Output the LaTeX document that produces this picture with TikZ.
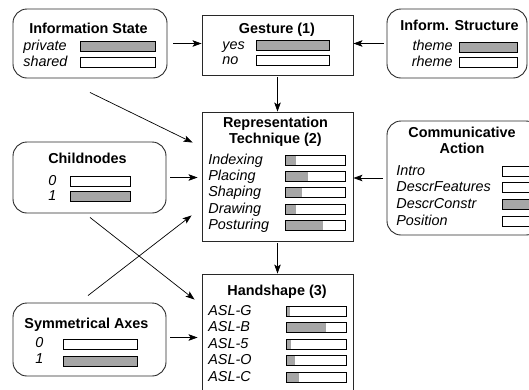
\documentclass[tikz,border=0pt]{standalone}
\usepackage{fontspec}
\setmainfont{Liberation Sans}
\usetikzlibrary{arrows.meta,calc}

\definecolor{barfill}{RGB}{166,166,166}
\definecolor{frame}{RGB}{40,40,40}

\tikzstyle{plainbox} = [rectangle, draw=frame, line width=0.9pt]
\tikzstyle{roundbox} = [plainbox, rounded corners=14pt]
\tikzstyle{boxtitle} = [font=\fontsize{14.4}{15.8}\selectfont\bfseries,
    anchor=base, align=center, inner sep=0pt]
\tikzstyle{lbl} = [font=\fontsize{14.4}{16}\selectfont\itshape,
    anchor=base west, inner sep=0pt]
\tikzstyle{barframe} = [draw=black, line width=0.7pt]

% bar: left x, baseline y, width, filled share
\newcommand{\probbar}[4]{%
  \fill[barfill] (#1,#2+1) rectangle ++(#3*#4,-10);
  \draw[barframe] (#1,#2+1) rectangle ++(#3,-10);
}

\begin{document}
\begin{tikzpicture}[x=1pt,y=-1pt,->,>={Stealth[length=9pt,width=6.5pt,inset=2pt]},
                    line width=0.7pt]
  \useasboundingbox (0,0) rectangle (529,389);
  \clip (0,0) rectangle (529,389);

  % boxes
  \node[roundbox, minimum width=154pt, minimum height=69pt] (info) at (90,43.5) {};
  \node[plainbox, minimum width=151pt, minimum height=60pt] (gesture) at (277.5,45) {};
  \node[roundbox, minimum width=140pt, minimum height=69pt] (instr) at (457,43.5) {};
  \node[plainbox, minimum width=151pt, minimum height=129pt] (rep) at (277.5,176.5) {};
  \node[roundbox, minimum width=153pt, minimum height=114pt] (comm) at (463.5,178) {};
  \node[roundbox, minimum width=153pt, minimum height=71pt] (child) at (89.5,177.5) {};
  \node[plainbox, minimum width=151pt, minimum height=126pt] (hand) at (277.5,337) {};
  \node[roundbox, minimum width=153pt, minimum height=73pt] (sym) at (89.5,339.5) {};

  % Information State
  \node[boxtitle] (info-t) at (88.5,33) {Information State};
  \node[lbl] (info-1) at (23,50) {private};
  \node[lbl] (info-2) at (23,66) {shared};
  \probbar{80}{50.5}{75}{1}
  \probbar{80}{66}{75}{0}

  % Gesture
  \node[boxtitle] (gesture-t) at (277,33.5) {Gesture (1)};
  \node[lbl] (gesture-1) at (222,49) {yes};
  \node[lbl] (gesture-2) at (222,64) {no};
  \probbar{256}{49}{73}{1}
  \probbar{256}{64.5}{73}{0}

  % Inform. Structure
  \node[boxtitle] (instr-t) at (459.5,30.5) {Inform. Structure};
  \node[lbl, anchor=base east] (instr-1) at (453,50) {theme};
  \node[lbl, anchor=base east] (instr-2) at (453,66) {rheme};
  \probbar{459}{51}{58}{1}
  \probbar{459}{66}{58}{0}

  % Representation Technique (anchored on the second line)
  \node[boxtitle] (rep-t) at (275.5,143.5) {Representation\\Technique (2)};
  \foreach \lab/\share [count=\i] in {Indexing/.17, Placing/.37, Shaping/.28,
                                       Drawing/.17, Posturing/.62}{
    \node[lbl] (rep-\i) at (208,147.6+16.4*\i) {\lab};
    \probbar{285.5}{147.6+16.4*\i}{60}{\share}
  }

  % Communicative Action
  \node[boxtitle] (comm-t) at (462,153) {Communicative\\Action};
  \foreach \lab/\share [count=\i] in {Intro/0, DescrFeatures/0, DescrConstr/1,
                                       Position/0}{
    \node[lbl] (comm-\i) at (396,158.3+16.7*\i) {\lab};
    \probbar{502}{158.3+16.7*\i}{60}{\share}
  }

  % Childnodes
  \node[boxtitle] (child-t) at (87.5,163) {Childnodes};
  \node[lbl] (child-1) at (48,185) {0};
  \node[lbl] (child-2) at (48,200) {1};
  \probbar{70}{185}{60}{0}
  \probbar{70}{200}{60}{1}

  % Handshape
  \node[boxtitle] (hand-t) at (277,295) {Handshape (3)};
  \foreach \lab/\share [count=\i] in {ASL-G/.05, ASL-B/.66, ASL-5/.08,
                                       ASL-O/.14, ASL-C/.21}{
    \node[lbl] (hand-\i) at (208,298.5+16.5*\i) {\lab};
    \probbar{286.5}{298.5+16.5*\i}{60}{\share}
  }

  % Symmetrical Axes
  \node[boxtitle] (sym-t) at (86.5,328) {Symmetrical Axes};
  \node[lbl] (sym-1) at (35,347) {0};
  \node[lbl] (sym-2) at (35,363) {1};
  \probbar{63}{348.5}{74}{0}
  \probbar{63}{365.5}{74}{1}

  % connectors
  \draw[shorten <=6pt] (info.east) -- (info.east -| gesture.west);
  \draw[shorten <=3pt] (instr.west) -- (instr.west -| gesture.east);
  \draw[shorten <=2pt] (gesture) -- (rep);
  \draw ($(info.south)+(0,14)$) -- ($(rep.north west)+(-9,31)$);
  \draw[shorten <=4pt, shorten >=4pt] (child.east) -- (child.east -| rep.west);
  \draw[shorten <=4pt] (comm.west) -- (comm.west -| rep.east);
  \draw ($(child.south)+(0.5,4)$) -- ($(hand.north west)+(-7,26)$);
  \draw ($(sym.north)+(-1.5,-7)$) -- ($(rep.south west)+(-10,-26)$);
  \draw[shorten <=2pt] (rep) -- (hand);
  \draw[shorten <=4pt, shorten >=4pt] ([yshift=2pt]sym.east) -- ([yshift=2pt]sym.east -| hand.west);
\end{tikzpicture}
\end{document}
